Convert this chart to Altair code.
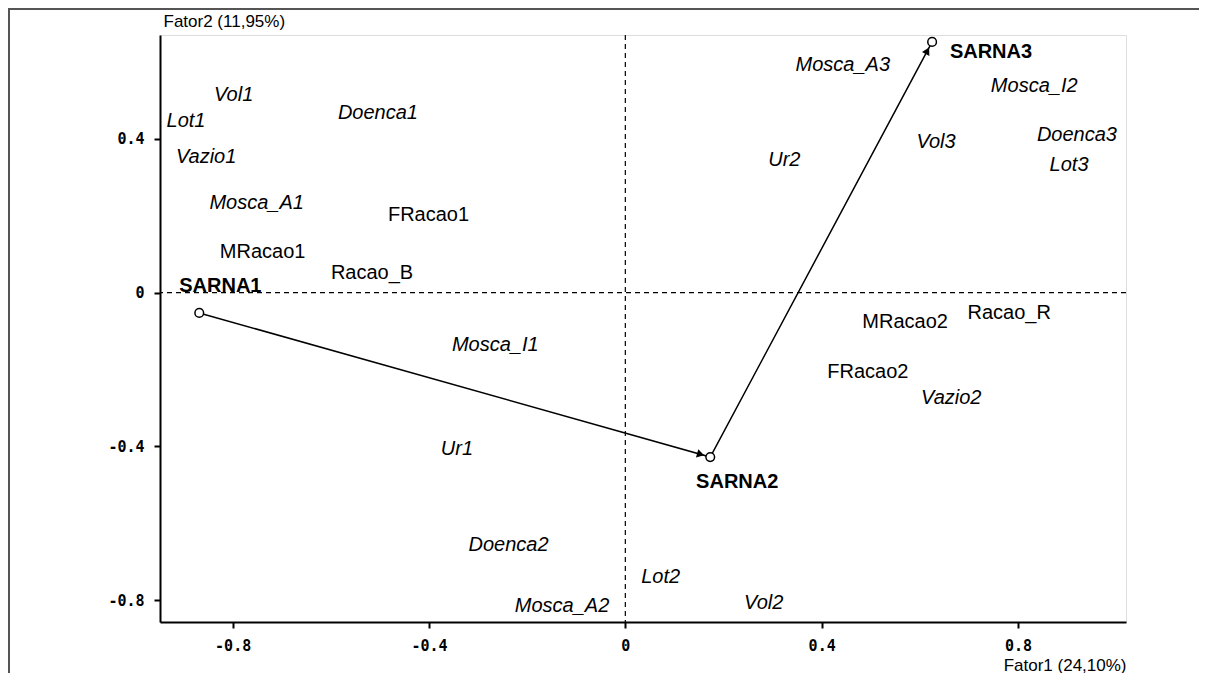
import altair as alt
import pandas as pd
import numpy as np

# ---------------- data ----------------
x_domain = [-0.948, 1.020]
y_domain = [-0.857, 0.670]

it_labels = ["Vol1", "Lot1", "Vazio1", "Mosca_A1", "Doenca1", "Mosca_I1", "Ur1",
             "Doenca2", "Mosca_A2", "Lot2", "Vol2", "Ur2", "Mosca_A3", "Vol3",
             "Mosca_I2", "Doenca3", "Lot3", "Vazio2"]
it_x = [-0.798, -0.895, -0.854, -0.751, -0.504, -0.265, -0.343,
        -0.238, -0.129, 0.072, 0.282, 0.324, 0.443, 0.633,
        0.833, 0.920, 0.904, 0.664]
it_y = [0.515, 0.447, 0.352, 0.232, 0.468, -0.137, -0.407,
        -0.657, -0.815, -0.739, -0.808, 0.345, 0.592, 0.392,
        0.537, 0.410, 0.332, -0.274]

up_labels = ["MRacao1", "FRacao1", "Racao_B", "MRacao2", "Racao_R", "FRacao2"]
up_x = [-0.739, -0.401, -0.516, 0.570, 0.782, 0.494]
up_y = [0.106, 0.202, 0.050, -0.076, -0.052, -0.206]

sarna_labels = ["SARNA1", "SARNA2", "SARNA3"]
sarna_x = [-0.868, 0.173, 0.625]
sarna_y = [-0.053, -0.428, 0.652]
sarna_lab_x = [-0.825, 0.228, 0.745]
sarna_lab_y = [0.017, -0.493, 0.625]

x_ticks = [-0.8, -0.4, 0, 0.4, 0.8]
y_ticks = [-0.8, -0.4, 0, 0.4]
x_title = "Fator1 (24,10%)"
y_title = "Fator2 (11,95%)"

# ---------------- layout ----------------
W, H = 966, 587
PAD = {"left": 152, "top": 27, "right": 73, "bottom": 51}

it_df = pd.DataFrame({"label": it_labels, "x": it_x, "y": it_y})
up_df = pd.DataFrame({"label": up_labels, "x": up_x, "y": up_y})
pts_df = pd.DataFrame({"label": sarna_labels, "x": sarna_x, "y": sarna_y,
                       "order": [0, 1, 2]})
lab_df = pd.DataFrame({"label": sarna_labels, "x": sarna_lab_x, "y": sarna_lab_y})

# arrowheads just before the 2nd and 3rd point
sx = W / (x_domain[1] - x_domain[0])
sy = H / (y_domain[1] - y_domain[0])
ah = []
for i in (1, 2):
    x0, y0 = sarna_x[i - 1], sarna_y[i - 1]
    x1, y1 = sarna_x[i], sarna_y[i]
    dxp = (x1 - x0) * sx
    dyp = -(y1 - y0) * sy
    L = np.hypot(dxp, dyp)
    ux, uy = dxp / L, dyp / L
    back = 10.0
    ah.append({"x": x1 - ux * back / sx, "y": y1 + uy * back / sy,
               "angle": float(np.degrees(np.arctan2(dxp, -dyp)) % 360)})
ah_df = pd.DataFrame(ah)

xs = alt.Scale(domain=x_domain, nice=False, zero=False)
ys = alt.Scale(domain=y_domain, nice=False, zero=False)

lab_expr = "datum.value == 0 ? '0' : replace(format(datum.value, '.1f'), '\u2212', '-')"

X = alt.X("x:Q", scale=xs, axis=alt.Axis(
    values=x_ticks, labelExpr=lab_expr, title=x_title, grid=False,
    titleAngle=0, titleX=W, titleY=43, titleAlign="right", titleBaseline="middle",
    titleFont="Liberation Sans", titleFontSize=17, titleFontWeight="normal",
    labelFont="DejaVu Sans Mono", labelFontSize=15, labelFontWeight="bold",
    labelPadding=10, labelColor="black", titleColor="black",
    domainColor="black", domainWidth=2, tickColor="black", tickWidth=2, tickSize=6))
Y = alt.Y("y:Q", scale=ys, axis=alt.Axis(
    values=y_ticks, labelExpr=lab_expr, title=y_title, grid=False,
    titleAngle=0, titleX=3, titleY=-14, titleAlign="left", titleBaseline="middle",
    titleFont="Liberation Sans", titleFontSize=17, titleFontWeight="normal",
    labelFont="DejaVu Sans Mono", labelFontSize=15, labelFontWeight="bold",
    labelPadding=10, labelColor="black", titleColor="black",
    domainColor="black", domainWidth=2, tickColor="black", tickWidth=2, tickSize=6))

# outer frame (top and left edges visible, the rest runs off the page)
frame = alt.Chart(pd.DataFrame({"k": [0]})).mark_rect(
    fillOpacity=0, stroke="#555555", strokeWidth=2
).encode(x=alt.value(-151), x2=alt.value(1060), y=alt.value(-26), y2=alt.value(660))

vline = alt.Chart(pd.DataFrame({"x": [0]})).mark_rule(
    color="black", strokeWidth=1.2, strokeDash=[5, 4]).encode(x=alt.X("x:Q", scale=xs))
hline = alt.Chart(pd.DataFrame({"y": [0]})).mark_rule(
    color="black", strokeWidth=1.2, strokeDash=[5, 4]).encode(y=alt.Y("y:Q", scale=ys))

path = alt.Chart(pts_df).mark_line(color="black", strokeWidth=1.5).encode(
    x=X, y=Y, order="order:Q")

heads = alt.Chart(ah_df).mark_point(
    shape="triangle-up", filled=True, color="black", size=70, opacity=1
).encode(x=alt.X("x:Q", scale=xs), y=alt.Y("y:Q", scale=ys),
         angle=alt.Angle("angle:Q", scale=None))

circles = alt.Chart(pts_df).mark_point(
    shape="circle", filled=True, fill="white", stroke="black", strokeWidth=1.5,
    size=75, opacity=1).encode(x=alt.X("x:Q", scale=xs), y=alt.Y("y:Q", scale=ys))

t_it = alt.Chart(it_df).mark_text(
    font="Liberation Sans", fontSize=20, fontStyle="italic", color="black",
    align="center", baseline="middle").encode(
    x=alt.X("x:Q", scale=xs), y=alt.Y("y:Q", scale=ys), text="label:N")
t_up = alt.Chart(up_df).mark_text(
    font="Liberation Sans", fontSize=20, color="black",
    align="center", baseline="middle").encode(
    x=alt.X("x:Q", scale=xs), y=alt.Y("y:Q", scale=ys), text="label:N")
t_sarna = alt.Chart(lab_df).mark_text(
    font="Liberation Sans", fontSize=20, fontWeight="bold", color="black",
    align="center", baseline="middle").encode(
    x=alt.X("x:Q", scale=xs), y=alt.Y("y:Q", scale=ys), text="label:N")

chart = alt.layer(
    frame, vline, hline, path, heads, circles, t_it, t_up, t_sarna
).properties(
    width=W, height=H,
    autosize=alt.AutoSizeParams(type="none"),
    padding=PAD,
).configure_view(
    stroke="black", strokeWidth=1.5
).configure(background="white")

chart.save("out.html", embed_options={"renderer": "svg", "actions": False})
